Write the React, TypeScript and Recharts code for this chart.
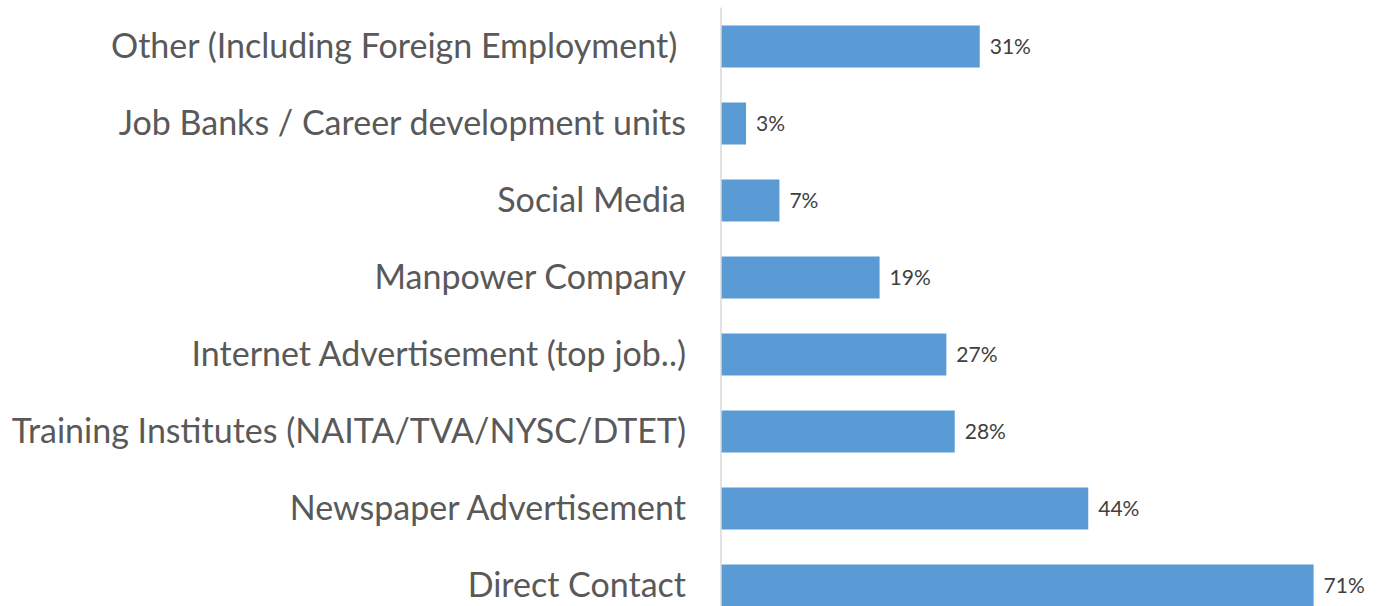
import { BarChart, Bar, XAxis, YAxis, LabelList } from 'recharts'

const categories = [
  'Other (Including Foreign Employment)\u00A0',
  'Job Banks / Career development units',
  'Social Media',
  'Manpower Company',
  'Internet Advertisement (top job..)',
  'Training Institutes (NAITA/TVA/NYSC/DTET)',
  'Newspaper Advertisement',
  'Direct Contact',
]
const shares = [31, 3, 7, 19, 27, 28, 44, 71]

const data = categories.map((name, i) => ({ name, value: shares[i] }))

const font = 'Lato, "Open Sans", sans-serif'

export default function App() {
  return (
    <div style={{ position: 'absolute', left: 0, top: 0, width: 1381, height: 606, overflow: 'hidden', background: '#fff' }}>
      <BarChart
        width={1381}
        height={630}
        data={data}
        layout="vertical"
        margin={{ top: 7.5, right: 34, left: 0, bottom: 6.5 }}
        barCategoryGap={35}
      >
        <XAxis type="number" domain={[0, 75]} hide />
        <YAxis
          type="category"
          dataKey="name"
          width={721}
          axisLine={{ stroke: '#D9D9D9', strokeWidth: 1.5 }}
          tickLine={false}
          tickSize={0}
          tickMargin={35}
          interval={0}
          tick={{ fontSize: 34, fontFamily: font, fill: '#595959' }}
        />
        <Bar dataKey="value" fill="#5B9BD5" barSize={42} isAnimationActive={false}>
          <LabelList
            dataKey="value"
            position="right"
            offset={10}
            formatter={(v: number) => `${v}%`}
            style={{ fontSize: 21, fontFamily: font, fill: '#404040' }}
          />
        </Bar>
      </BarChart>
    </div>
  )
}
